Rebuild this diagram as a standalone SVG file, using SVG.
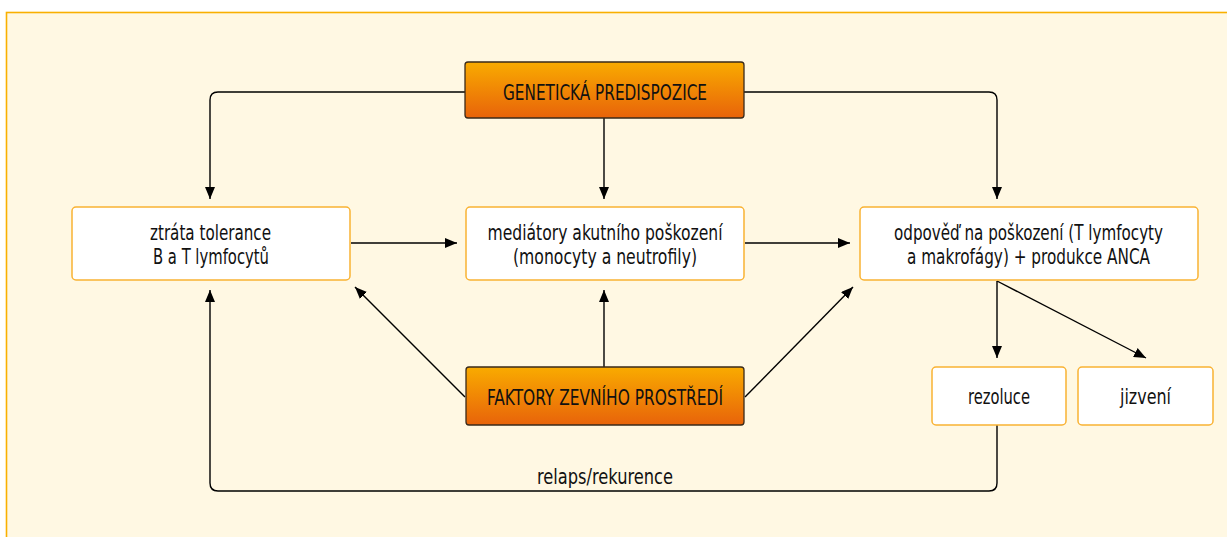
<svg xmlns="http://www.w3.org/2000/svg" width="1227" height="537" viewBox="0 0 1227 537">
<defs>
<linearGradient id="og" x1="0" y1="0" x2="0" y2="1">
<stop offset="0" stop-color="#f9ab00"/>
<stop offset="1" stop-color="#e8630a"/>
</linearGradient>
<marker id="ah" viewBox="0 0 12 10" refX="12" refY="5" markerWidth="12" markerHeight="10" markerUnits="userSpaceOnUse" orient="auto">
<path d="M0,0 L12,5 L0,10 Z" fill="#000"/>
</marker>
<style>
.box{fill:#fff;stroke:#f9b233;stroke-width:1.5}
.obox{fill:url(#og);stroke:#3a2a1a;stroke-width:1.3}
text{font-family:"Liberation Sans Narrow","DejaVu Sans Condensed","Liberation Sans",sans-serif;font-size:21px;fill:#111;text-anchor:middle}
.c{fill:none;stroke:#000;stroke-width:1.4}
.ca{fill:none;stroke:#000;stroke-width:1.4;marker-end:url(#ah)}
</style>
</defs>
<rect x="0" y="0" width="1227" height="537" fill="#fff"/>
<rect x="6.5" y="12.5" width="1240" height="540" fill="#fff8e3" stroke="#f9b000" stroke-width="1.6"/>
<g id="connectors">
<path class="ca" d="M465,92 H218 Q210,92 210,100 V199"/>
<path class="ca" d="M744,92 H989 Q997,92 997,100 V199"/>
<path class="ca" d="M604,118 V199"/>
<path class="ca" d="M351,243 H457"/>
<path class="ca" d="M745,243 H850"/>
<path class="ca" d="M465,397 L355,287"/>
<path class="ca" d="M745,397 L853,287"/>
<path class="ca" d="M604,367 V290"/>
<path class="ca" d="M997,281 V358"/>
<path class="ca" d="M997,281 L1146,358"/>
<path class="ca" d="M997,425 V483 Q997,491 989,491 H218 Q210,491 210,483 V290"/>
<text x="605" y="484" textLength="136" lengthAdjust="spacingAndGlyphs">relaps/rekurence</text>
</g>
<g id="genetic">
<rect class="obox" x="465" y="62" width="279" height="56" rx="3"/>
<text x="605" y="100" textLength="204" lengthAdjust="spacingAndGlyphs">GENETICKÁ PREDISPOZICE</text>
</g>
<g id="tolerance">
<rect class="box" x="72" y="207" width="278" height="73" rx="4"/>
<text x="210.5" y="240" textLength="121" lengthAdjust="spacingAndGlyphs">ztráta tolerance</text>
<text x="211" y="264" textLength="116" lengthAdjust="spacingAndGlyphs">B a T lymfocytů</text>
</g>
<g id="mediators">
<rect class="box" x="466" y="207" width="278" height="73" rx="4"/>
<text x="605" y="240" textLength="235" lengthAdjust="spacingAndGlyphs">mediátory akutního poškození</text>
<text x="605" y="264" textLength="184" lengthAdjust="spacingAndGlyphs">(monocyty a neutrofily)</text>
</g>
<g id="response">
<rect class="box" x="860" y="207" width="338" height="73" rx="4"/>
<text x="1028.5" y="240" textLength="269" lengthAdjust="spacingAndGlyphs">odpověď na poškození (T lymfocyty</text>
<text x="1028.5" y="264" textLength="243" lengthAdjust="spacingAndGlyphs">a makrofágy) + produkce ANCA</text>
</g>
<g id="environment">
<rect class="obox" x="466" y="367" width="278" height="58" rx="3"/>
<text x="605" y="405" textLength="236" lengthAdjust="spacingAndGlyphs">FAKTORY ZEVNÍHO PROSTŘEDÍ</text>
</g>
<g id="resolution">
<rect class="box" x="932" y="367" width="134" height="58" rx="4"/>
<text x="999" y="404" textLength="62" lengthAdjust="spacingAndGlyphs">rezoluce</text>
</g>
<g id="scarring">
<rect class="box" x="1078" y="367" width="135" height="58" rx="4"/>
<text x="1145.5" y="404" textLength="51" lengthAdjust="spacingAndGlyphs">jizvení</text>
</g>
</svg>
